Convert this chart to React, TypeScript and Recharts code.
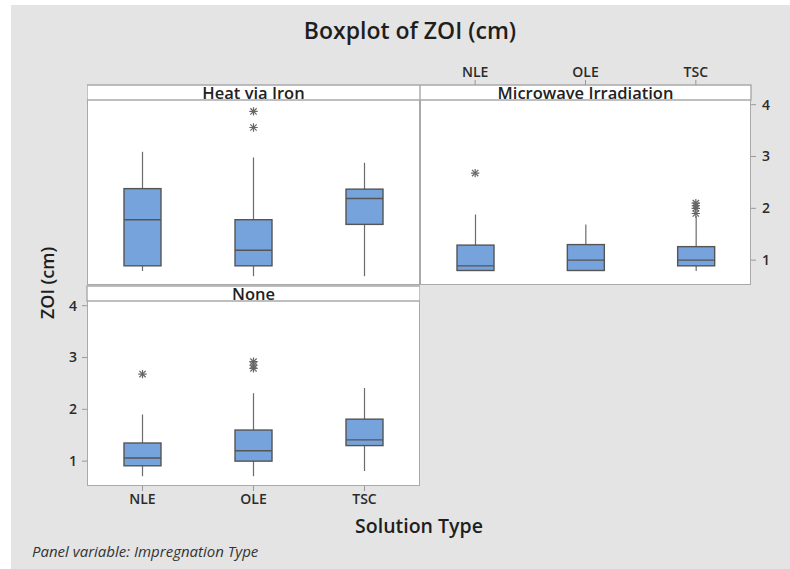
import { Bar, ComposedChart, ReferenceArea, Scatter, XAxis, YAxis } from "recharts";

const solutions = ["NLE", "OLE", "TSC"];
const yTicks = [1, 2, 3, 4];

// [whisker low, Q1, median, Q3, whisker high] per solution
const heatIron = [
  [0.79, 0.89, 1.78, 2.38, 3.09],
  [0.69, 0.89, 1.19, 1.78, 2.98],
  [0.69, 1.69, 2.19, 2.37, 2.88],
];
const heatIronOutliers = [[], [3.87, 3.56], []];

const microwave = [
  [0.8, 0.8, 0.89, 1.29, 1.88],
  [0.8, 0.8, 1.0, 1.3, 1.69],
  [0.79, 0.89, 1.0, 1.26, 1.85],
];
const microwaveOutliers = [[2.68], [], [2.1, 2.05, 2.0, 1.9]];

const noneTreat = [
  [0.71, 0.91, 1.06, 1.35, 1.9],
  [0.71, 1.0, 1.2, 1.6, 2.31],
  [0.81, 1.3, 1.41, 1.81, 2.41],
];
const noneOutliers = [[2.68], [2.92, 2.85, 2.79], []];

const DOMAIN: [number, number] = [0.52, 4.38];
const STRIP_LOW = 4.09;
const FONT = "'Open Sans', 'Noto Sans', sans-serif";
const BORDER = "#a9a9a9";

const buildRows = (stats: number[][], outliers: number[][]) =>
  solutions.map((cat, i) => {
    const [lo, q1, med, q3, hi] = stats[i];
    const row: any = { cat, range: [lo, hi], q1, med, q3 };
    outliers[i].forEach((v, k) => (row[`o${k}`] = v));
    return row;
  });

const BoxShape = (props: any) => {
  const { x, y, width, height, payload } = props;
  const [lo, hi] = payload.range;
  const top = Math.min(y, y + height);
  const h = Math.abs(height);
  const py = (v: number) => top + (h * (hi - v)) / (hi - lo);
  const cx = x + width / 2;
  return (
    <g>
      <line x1={cx} x2={cx} y1={top} y2={top + h} stroke="#6b6b6b" strokeWidth={1.2} />
      <rect
        x={x}
        y={py(payload.q3)}
        width={width}
        height={py(payload.q1) - py(payload.q3)}
        fill="#77a3dc"
        stroke="#555"
        strokeWidth={1.4}
      />
      <line x1={x} x2={x + width} y1={py(payload.med)} y2={py(payload.med)} stroke="#555" strokeWidth={1.4} />
    </g>
  );
};

const Star = (props: any) => {
  const { cx, cy } = props;
  if (!Number.isFinite(cx) || !Number.isFinite(cy)) return <g />;
  const r = 4.2;
  const d = r * 0.75;
  return (
    <g stroke="#666" strokeWidth={1.2}>
      <line x1={cx} x2={cx} y1={cy - r} y2={cy + r} />
      <line x1={cx - r} x2={cx + r} y1={cy} y2={cy} />
      <line x1={cx - d} x2={cx + d} y1={cy - d} y2={cy + d} />
      <line x1={cx - d} x2={cx + d} y1={cy + d} y2={cy - d} />
    </g>
  );
};

const tickStyle = { fill: "#2b2b2b", fontSize: 14, fontWeight: 600, fontFamily: FONT };

const Panel = ({ rows, title, xAxis, yAxis, width, height, margin }: any) => (
  <ComposedChart width={width} height={height} data={rows} margin={margin}>
    {xAxis}
    {yAxis}
    <ReferenceArea
      y1={STRIP_LOW}
      y2={DOMAIN[1]}
      fill="#fff"
      fillOpacity={1}
      stroke={BORDER}
      strokeWidth={1.4}
      label={{ value: title, position: "center", dy: 1, fill: "#222", fontSize: 16.5, fontWeight: 600, fontFamily: FONT }}
    />
    <Bar dataKey="range" barSize={37} shape={BoxShape} isAnimationActive={false} />
    {[0, 1, 2, 3].map((k) => (
      <Scatter key={k} dataKey={`o${k}`} shape={Star} isAnimationActive={false} />
    ))}
  </ComposedChart>
);

const yAxisProps = {
  type: "number" as const,
  domain: DOMAIN,
  ticks: yTicks,
  allowDataOverflow: true,
};

export default function App() {
  const frame = (left: number, top: number, w: number, h: number) => (
    <div
      style={{
        position: "absolute",
        left,
        top,
        width: w,
        height: h,
        background: "#fff",
        border: `1.5px solid ${BORDER}`,
        boxSizing: "border-box",
      }}
    />
  );

  return (
    <div style={{ position: "absolute", left: 0, top: 0, width: 790, height: 569, background: "#fff", fontFamily: FONT }}>
      <div style={{ position: "absolute", left: 11, top: 5, width: 779, height: 564, background: "#e4e4e4" }} />
      {frame(87, 85, 333, 200)}
      {frame(420, 85, 331, 200)}
      {frame(87, 285.5, 333, 200)}

      <div style={{ position: "absolute", left: 0, top: 16, width: 820, textAlign: "center", fontSize: 23, fontWeight: 600, lineHeight: "28px", color: "#1e1e1e" }}>
        Boxplot of ZOI (cm)
      </div>

      <div style={{ position: "absolute", left: 87, top: 65 }}>
        <Panel
          rows={buildRows(heatIron, heatIronOutliers)}
          title="Heat via Iron"
          width={333}
          height={220}
          margin={{ top: 20, right: 0, bottom: 0, left: 0 }}
          xAxis={<XAxis dataKey="cat" type="category" hide />}
          yAxis={<YAxis {...yAxisProps} hide />}
        />
      </div>

      <div style={{ position: "absolute", left: 420, top: 55 }}>
        <Panel
          rows={buildRows(microwave, microwaveOutliers)}
          title="Microwave Irradiation"
          width={365}
          height={230}
          margin={{ top: 0, right: 0, bottom: 0, left: 0 }}
          xAxis={
            <XAxis
              dataKey="cat"
              type="category"
              orientation="top"
              height={30}
              axisLine={false}
              tickSize={5}
              tickMargin={3}
              tickLine={{ stroke: "#999" }}
              tick={tickStyle}
            />
          }
          yAxis={
            <YAxis
              {...yAxisProps}
              orientation="right"
              width={34}
              axisLine={false}
              tickSize={5}
              tickMargin={6}
              tickLine={{ stroke: "#999" }}
              tick={tickStyle}
            />
          }
        />
      </div>

      <div style={{ position: "absolute", left: 57, top: 265.5 }}>
        <Panel
          rows={buildRows(noneTreat, noneOutliers)}
          title="None"
          width={363}
          height={250}
          margin={{ top: 20, right: 0, bottom: 0, left: 0 }}
          xAxis={
            <XAxis
              dataKey="cat"
              type="category"
              height={30}
              axisLine={false}
              tickSize={5}
              tickMargin={3}
              tickLine={{ stroke: "#999" }}
              tick={tickStyle}
            />
          }
          yAxis={
            <YAxis
              {...yAxisProps}
              width={30}
              axisLine={false}
              tickSize={5}
              tickMargin={5}
              tickLine={{ stroke: "#999" }}
              tick={tickStyle}
            />
          }
        />
      </div>

      <div
        style={{
          position: "absolute",
          left: 47,
          top: 283,
          transform: "translate(-50%, -50%) rotate(-90deg)",
          whiteSpace: "nowrap",
          fontSize: 18,
          fontWeight: 600,
          color: "#1e1e1e",
        }}
      >
        ZOI (cm)
      </div>

      <div style={{ position: "absolute", left: 0, top: 514, width: 838, textAlign: "center", fontSize: 19.5, fontWeight: 600, lineHeight: "24px", color: "#1e1e1e" }}>
        Solution Type
      </div>

      <div style={{ position: "absolute", left: 32, top: 542, fontSize: 15, fontStyle: "italic", lineHeight: "18px", color: "#333" }}>
        Panel variable: Impregnation Type
      </div>
    </div>
  );
}
